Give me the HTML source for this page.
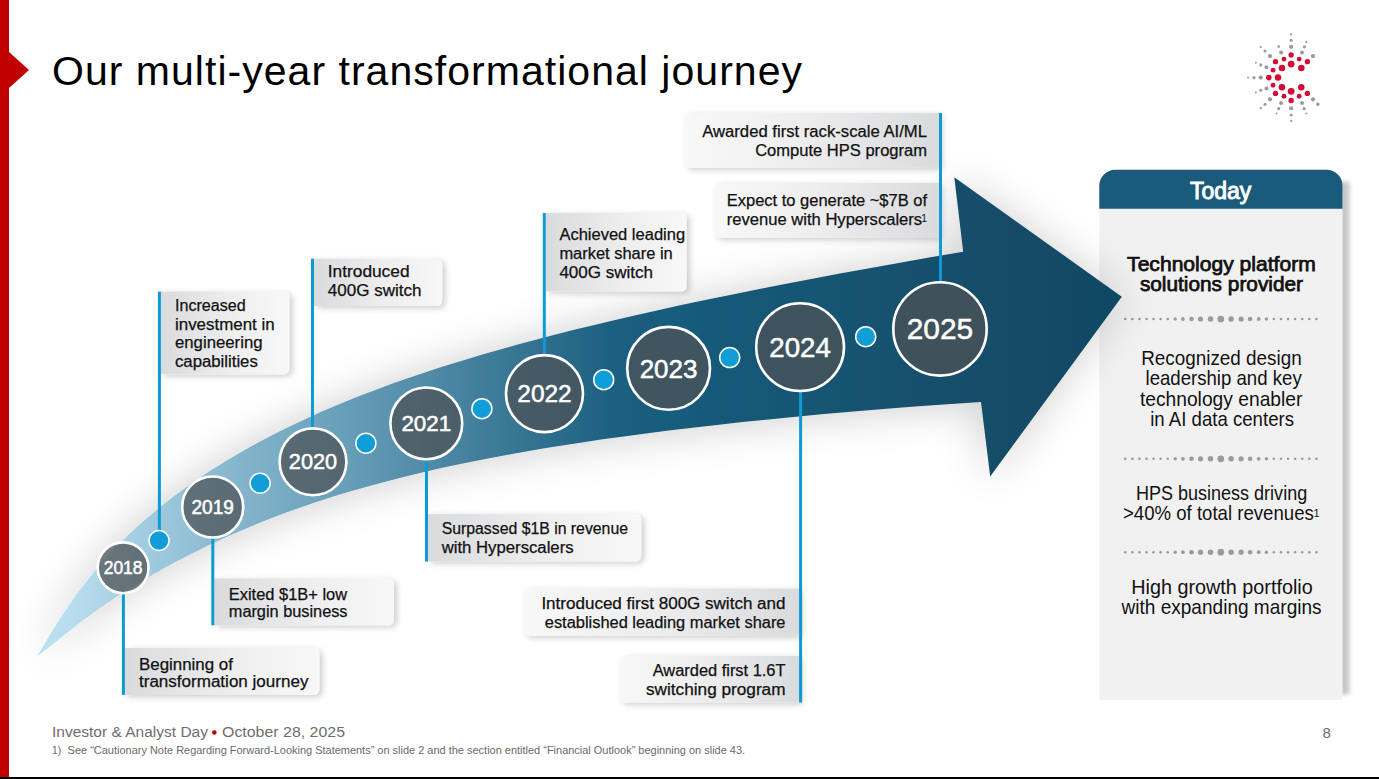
<!DOCTYPE html>
<html><head><meta charset="utf-8"><title>Our multi-year transformational journey</title>
<style>
html,body{margin:0;padding:0;background:#fff;}
body{width:1379px;height:779px;overflow:hidden;position:relative;font-family:"Liberation Sans", sans-serif;}
svg{position:absolute;left:0;top:0;display:block;}
</style></head><body>
<svg width="1379" height="779" viewBox="0 0 1379 779" font-family='"Liberation Sans", sans-serif'>
<defs>
 <linearGradient id="band" gradientUnits="userSpaceOnUse" x1="38" y1="0" x2="1122" y2="0">
  <stop offset="0" stop-color="#bfe1f1"/>
  <stop offset="0.03" stop-color="#b8ddee"/>
  <stop offset="0.20" stop-color="#80b1c9"/>
  <stop offset="0.288" stop-color="#669db8"/>
  <stop offset="0.468" stop-color="#2e6f8d"/>
  <stop offset="0.54" stop-color="#1a5e7e"/>
  <stop offset="0.934" stop-color="#124a65"/>
  <stop offset="1" stop-color="#114862"/>
 </linearGradient>
 <linearGradient id="boxL" x1="0" y1="0" x2="1" y2="0">
  <stop offset="0" stop-color="#dadbdd"/><stop offset="0.55" stop-color="#eeeeef"/><stop offset="1" stop-color="#f8f8f8"/>
 </linearGradient>
 <linearGradient id="boxR" x1="0" y1="0" x2="1" y2="0">
  <stop offset="0" stop-color="#f8f8f8"/><stop offset="0.45" stop-color="#eeeeef"/><stop offset="1" stop-color="#dadbdd"/>
 </linearGradient>
 <filter id="shadowBand" x="-20%" y="-40%" width="140%" height="180%">
  <feGaussianBlur in="SourceAlpha" stdDeviation="22"/>
  <feOffset dx="-1" dy="1" result="b"/>
  <feComponentTransfer><feFuncA type="linear" slope="0.2"/></feComponentTransfer>
  <feMerge><feMergeNode/><feMergeNode in="SourceGraphic"/></feMerge>
 </filter>
 <filter id="shadowBox" x="-10%" y="-30%" width="125%" height="170%">
  <feGaussianBlur in="SourceAlpha" stdDeviation="3"/>
  <feOffset dx="3" dy="2" result="b"/>
  <feComponentTransfer><feFuncA type="linear" slope="0.2"/></feComponentTransfer>
  <feMerge><feMergeNode/><feMergeNode in="SourceGraphic"/></feMerge>
 </filter>
 <filter id="shadowPanel" x="-10%" y="-10%" width="125%" height="120%">
  <feGaussianBlur in="SourceAlpha" stdDeviation="3"/>
  <feOffset dx="6" dy="2" result="b"/>
  <feComponentTransfer><feFuncA type="linear" slope="0.36"/></feComponentTransfer>
  <feMerge><feMergeNode/><feMergeNode in="SourceGraphic"/></feMerge>
 </filter>
 <filter id="blurP" x="-100%" y="-10%" width="300%" height="120%"><feGaussianBlur stdDeviation="2.2"/></filter>
</defs>
<rect x="0" y="0" width="9" height="779" fill="#c00000"/>
<polygon points="9,52 29,70 9,88" fill="#c00000"/>
<rect x="0" y="777" width="1379" height="2" fill="#000"/>
<text x="52" y="85" font-size="41" fill="#000" textLength="750" lengthAdjust="spacing">Our multi-year transformational journey</text>

<svg x="1230" y="20" width="110" height="110" viewBox="0 0 779 779">
<circle cx="433" cy="102" r="8" fill="#9a9b9e"/>
<circle cx="433" cy="143" r="11" fill="#9a9b9e"/>
<circle cx="433" cy="190" r="15" fill="#9a9b9e"/>
<circle cx="540" cy="157" r="8" fill="#9a9b9e"/>
<circle cx="527" cy="190" r="11" fill="#9a9b9e"/>
<circle cx="510" cy="230" r="14" fill="#9a9b9e"/>
<circle cx="588" cy="255" r="15" fill="#9a9b9e"/>
<circle cx="218" cy="192" r="8" fill="#9a9b9e"/>
<circle cx="248" cy="220" r="11" fill="#9a9b9e"/>
<circle cx="283" cy="255" r="15" fill="#9a9b9e"/>
<circle cx="345" cy="188" r="10" fill="#9a9b9e"/>
<circle cx="362" cy="230" r="14" fill="#9a9b9e"/>
<circle cx="183" cy="303" r="7" fill="#9a9b9e"/>
<circle cx="218" cy="318" r="11" fill="#9a9b9e"/>
<circle cx="258" cy="335" r="14" fill="#9a9b9e"/>
<circle cx="128" cy="408" r="7" fill="#9a9b9e"/>
<circle cx="170" cy="408" r="11" fill="#9a9b9e"/>
<circle cx="218" cy="408" r="15" fill="#9a9b9e"/>
<circle cx="183" cy="513" r="7" fill="#9a9b9e"/>
<circle cx="218" cy="498" r="11" fill="#9a9b9e"/>
<circle cx="258" cy="485" r="14" fill="#9a9b9e"/>
<circle cx="283" cy="562" r="15" fill="#9a9b9e"/>
<circle cx="248" cy="597" r="11" fill="#9a9b9e"/>
<circle cx="218" cy="625" r="8" fill="#9a9b9e"/>
<circle cx="362" cy="588" r="14" fill="#9a9b9e"/>
<circle cx="345" cy="628" r="11" fill="#9a9b9e"/>
<circle cx="330" cy="662" r="7" fill="#9a9b9e"/>
<circle cx="433" cy="625" r="15" fill="#9a9b9e"/>
<circle cx="433" cy="673" r="11" fill="#9a9b9e"/>
<circle cx="433" cy="715" r="8" fill="#9a9b9e"/>
<circle cx="510" cy="588" r="14" fill="#9a9b9e"/>
<circle cx="525" cy="628" r="11" fill="#9a9b9e"/>
<circle cx="540" cy="662" r="7" fill="#9a9b9e"/>
<circle cx="588" cy="562" r="15" fill="#9a9b9e"/>
<circle cx="622" cy="597" r="12" fill="#9a9b9e"/>
<circle cx="433" cy="247" r="19" fill="#d40b35"/>
<circle cx="382" cy="277" r="17" fill="#d40b35"/>
<circle cx="490" cy="277" r="17" fill="#d40b35"/>
<circle cx="322" cy="295" r="19" fill="#d40b35"/>
<circle cx="548" cy="295" r="19" fill="#d40b35"/>
<circle cx="433" cy="312" r="24" fill="#d40b35"/>
<circle cx="368" cy="340" r="23" fill="#d40b35"/>
<circle cx="505" cy="340" r="23" fill="#d40b35"/>
<circle cx="305" cy="355" r="17" fill="#d40b35"/>
<circle cx="275" cy="408" r="20" fill="#d40b35"/>
<circle cx="340" cy="408" r="23" fill="#d40b35"/>
<circle cx="305" cy="462" r="17" fill="#d40b35"/>
<circle cx="368" cy="477" r="23" fill="#d40b35"/>
<circle cx="505" cy="477" r="23" fill="#d40b35"/>
<circle cx="433" cy="505" r="24" fill="#d40b35"/>
<circle cx="322" cy="520" r="19" fill="#d40b35"/>
<circle cx="548" cy="520" r="19" fill="#d40b35"/>
<circle cx="382" cy="540" r="17" fill="#d40b35"/>
<circle cx="490" cy="540" r="17" fill="#d40b35"/>
<circle cx="433" cy="570" r="19" fill="#d40b35"/>
</svg>
<rect x="1338.5" y="181.7" width="11" height="512.8" fill="#000" fill-opacity="0.22" filter="url(#blurP)"/>
<path d="M1099.3,185.7 A16,16 0 0 1 1115.3,169.7 H1326.5 A16,16 0 0 1 1342.5,185.7 V699.8 H1099.3 Z" fill="#f1f1f1"/>
<path d="M1099.3,185.7 A16,16 0 0 1 1115.3,169.7 H1326.5 A16,16 0 0 1 1342.5,185.7 V208.8 H1099.3 Z" fill="#1a5a7a"/>
<text x="1189.9" y="199.1" font-size="23" stroke="#fff" stroke-width="0.9" fill="#fff" textLength="61.4" lengthAdjust="spacingAndGlyphs">Today</text>
<text x="1127.1" y="270.8" font-size="20.5" stroke="#111" stroke-width="0.75" fill="#111" textLength="188.7" lengthAdjust="spacingAndGlyphs">Technology platform</text>
<text x="1139.9" y="291.3" font-size="20.5" stroke="#111" stroke-width="0.75" fill="#111" textLength="163.1" lengthAdjust="spacingAndGlyphs">solutions provider</text>
<circle cx="1220.8" cy="319.0" r="3.35" fill="#9b9b9b"/><circle cx="1231.1" cy="319.0" r="2.75" fill="#9b9b9b"/><circle cx="1210.5" cy="319.0" r="2.75" fill="#9b9b9b"/><circle cx="1241.1" cy="319.0" r="2.6" fill="#9b9b9b"/><circle cx="1200.5" cy="319.0" r="2.6" fill="#9b9b9b"/><circle cx="1250.1" cy="319.0" r="2.3" fill="#9b9b9b"/><circle cx="1191.5" cy="319.0" r="2.3" fill="#9b9b9b"/><circle cx="1258.7" cy="319.0" r="1.9" fill="#9b9b9b"/><circle cx="1182.9" cy="319.0" r="1.9" fill="#9b9b9b"/><circle cx="1266.4" cy="319.0" r="1.7" fill="#9b9b9b"/><circle cx="1175.2" cy="319.0" r="1.7" fill="#9b9b9b"/><circle cx="1273.9" cy="319.0" r="1.3" fill="#9b9b9b"/><circle cx="1167.7" cy="319.0" r="1.3" fill="#9b9b9b"/><circle cx="1281.0" cy="319.0" r="1.3" fill="#9b9b9b"/><circle cx="1160.6" cy="319.0" r="1.3" fill="#9b9b9b"/><circle cx="1288.1" cy="319.0" r="1.3" fill="#9b9b9b"/><circle cx="1153.5" cy="319.0" r="1.3" fill="#9b9b9b"/><circle cx="1295.1" cy="319.0" r="1.3" fill="#9b9b9b"/><circle cx="1146.5" cy="319.0" r="1.3" fill="#9b9b9b"/><circle cx="1302.2" cy="319.0" r="1.3" fill="#9b9b9b"/><circle cx="1139.4" cy="319.0" r="1.3" fill="#9b9b9b"/><circle cx="1309.3" cy="319.0" r="1.3" fill="#9b9b9b"/><circle cx="1132.3" cy="319.0" r="1.3" fill="#9b9b9b"/><circle cx="1316.4" cy="319.0" r="1.3" fill="#9b9b9b"/><circle cx="1125.2" cy="319.0" r="1.3" fill="#9b9b9b"/>
<circle cx="1220.8" cy="458.8" r="3.35" fill="#9b9b9b"/><circle cx="1231.1" cy="458.8" r="2.75" fill="#9b9b9b"/><circle cx="1210.5" cy="458.8" r="2.75" fill="#9b9b9b"/><circle cx="1241.1" cy="458.8" r="2.6" fill="#9b9b9b"/><circle cx="1200.5" cy="458.8" r="2.6" fill="#9b9b9b"/><circle cx="1250.1" cy="458.8" r="2.3" fill="#9b9b9b"/><circle cx="1191.5" cy="458.8" r="2.3" fill="#9b9b9b"/><circle cx="1258.7" cy="458.8" r="1.9" fill="#9b9b9b"/><circle cx="1182.9" cy="458.8" r="1.9" fill="#9b9b9b"/><circle cx="1266.4" cy="458.8" r="1.7" fill="#9b9b9b"/><circle cx="1175.2" cy="458.8" r="1.7" fill="#9b9b9b"/><circle cx="1273.9" cy="458.8" r="1.3" fill="#9b9b9b"/><circle cx="1167.7" cy="458.8" r="1.3" fill="#9b9b9b"/><circle cx="1281.0" cy="458.8" r="1.3" fill="#9b9b9b"/><circle cx="1160.6" cy="458.8" r="1.3" fill="#9b9b9b"/><circle cx="1288.1" cy="458.8" r="1.3" fill="#9b9b9b"/><circle cx="1153.5" cy="458.8" r="1.3" fill="#9b9b9b"/><circle cx="1295.1" cy="458.8" r="1.3" fill="#9b9b9b"/><circle cx="1146.5" cy="458.8" r="1.3" fill="#9b9b9b"/><circle cx="1302.2" cy="458.8" r="1.3" fill="#9b9b9b"/><circle cx="1139.4" cy="458.8" r="1.3" fill="#9b9b9b"/><circle cx="1309.3" cy="458.8" r="1.3" fill="#9b9b9b"/><circle cx="1132.3" cy="458.8" r="1.3" fill="#9b9b9b"/><circle cx="1316.4" cy="458.8" r="1.3" fill="#9b9b9b"/><circle cx="1125.2" cy="458.8" r="1.3" fill="#9b9b9b"/>
<circle cx="1220.8" cy="552.2" r="3.35" fill="#9b9b9b"/><circle cx="1231.1" cy="552.2" r="2.75" fill="#9b9b9b"/><circle cx="1210.5" cy="552.2" r="2.75" fill="#9b9b9b"/><circle cx="1241.1" cy="552.2" r="2.6" fill="#9b9b9b"/><circle cx="1200.5" cy="552.2" r="2.6" fill="#9b9b9b"/><circle cx="1250.1" cy="552.2" r="2.3" fill="#9b9b9b"/><circle cx="1191.5" cy="552.2" r="2.3" fill="#9b9b9b"/><circle cx="1258.7" cy="552.2" r="1.9" fill="#9b9b9b"/><circle cx="1182.9" cy="552.2" r="1.9" fill="#9b9b9b"/><circle cx="1266.4" cy="552.2" r="1.7" fill="#9b9b9b"/><circle cx="1175.2" cy="552.2" r="1.7" fill="#9b9b9b"/><circle cx="1273.9" cy="552.2" r="1.3" fill="#9b9b9b"/><circle cx="1167.7" cy="552.2" r="1.3" fill="#9b9b9b"/><circle cx="1281.0" cy="552.2" r="1.3" fill="#9b9b9b"/><circle cx="1160.6" cy="552.2" r="1.3" fill="#9b9b9b"/><circle cx="1288.1" cy="552.2" r="1.3" fill="#9b9b9b"/><circle cx="1153.5" cy="552.2" r="1.3" fill="#9b9b9b"/><circle cx="1295.1" cy="552.2" r="1.3" fill="#9b9b9b"/><circle cx="1146.5" cy="552.2" r="1.3" fill="#9b9b9b"/><circle cx="1302.2" cy="552.2" r="1.3" fill="#9b9b9b"/><circle cx="1139.4" cy="552.2" r="1.3" fill="#9b9b9b"/><circle cx="1309.3" cy="552.2" r="1.3" fill="#9b9b9b"/><circle cx="1132.3" cy="552.2" r="1.3" fill="#9b9b9b"/><circle cx="1316.4" cy="552.2" r="1.3" fill="#9b9b9b"/><circle cx="1125.2" cy="552.2" r="1.3" fill="#9b9b9b"/>
<text x="1141.2" y="364.5" font-size="19.8" fill="#111" textLength="160.5" lengthAdjust="spacingAndGlyphs">Recognized design</text>
<text x="1145.5" y="385.0" font-size="19.8" fill="#111" textLength="156.2" lengthAdjust="spacingAndGlyphs">leadership and key</text>
<text x="1139.9" y="405.6" font-size="19.8" fill="#111" textLength="162.5" lengthAdjust="spacingAndGlyphs">technology enabler</text>
<text x="1150.2" y="426.1" font-size="19.8" fill="#111" textLength="143.8" lengthAdjust="spacingAndGlyphs">in AI data centers</text>
<text x="1135.9" y="499.8" font-size="19.8" fill="#111" textLength="171.3" lengthAdjust="spacingAndGlyphs">HPS business driving</text>
<text x="1123.0" y="520.3" font-size="19.8" fill="#111" textLength="190.8" lengthAdjust="spacingAndGlyphs">&gt;40% of total revenues</text>
<text x="1131.2" y="594.3" font-size="19.8" fill="#111" textLength="181.5" lengthAdjust="spacingAndGlyphs">High growth portfolio</text>
<text x="1121.5" y="613.8" font-size="19.8" fill="#111" textLength="200.1" lengthAdjust="spacingAndGlyphs">with expanding margins</text>
<text x="1313.4" y="516.5" font-size="11" fill="#111">1</text>
<path d="M37.4,655.9 L38.5,654.1 L39.6,652.3 L40.7,650.3 L41.9,648.3 L43.1,646.3 L44.4,644.1 L45.7,641.9 L47.1,639.6 L48.5,637.3 L50.0,634.8 L51.5,632.3 L53.0,629.8 L54.7,627.1 L56.3,624.4 L58.1,621.7 L59.9,618.9 L61.8,616.0 L63.7,613.0 L65.7,610.0 L67.8,607.0 L69.9,603.8 L72.1,600.7 L74.4,597.4 L76.8,594.1 L79.3,590.8 L81.9,587.4 L84.5,583.9 L87.3,580.4 L90.1,576.9 L93.0,573.2 L96.1,569.6 L99.2,565.9 L102.5,562.1 L105.9,558.3 L109.4,554.5 L113.0,550.6 L116.8,546.6 L120.7,542.7 L124.7,538.6 L128.9,534.6 L133.2,530.5 L137.7,526.3 L142.3,522.1 L147.1,517.9 L152.1,513.7 L157.2,509.4 L162.6,505.0 L168.1,500.7 L173.8,496.3 L179.7,491.9 L185.9,487.4 L192.2,482.9 L198.8,478.4 L205.6,473.8 L212.6,469.3 L219.9,464.7 L227.5,460.0 L235.3,455.4 L243.4,450.7 L251.8,446.0 L260.5,441.3 L269.5,436.6 L278.9,431.8 L288.5,427.0 L298.5,422.2 L308.9,417.4 L319.6,412.6 L330.7,407.8 L342.2,403.0 L354.2,398.1 L366.5,393.3 L379.3,388.4 L392.5,383.6 L406.2,378.7 L420.4,373.9 L435.1,369.0 L450.3,364.2 L466.1,359.4 L482.4,354.5 L499.3,349.7 L516.8,344.8 L534.9,339.9 L553.7,335.0 L573.1,330.1 L593.3,325.2 L614.1,320.2 L635.7,315.2 L658.0,310.2 L681.2,305.1 L705.2,300.0 L730.0,294.9 L755.7,289.7 L782.3,284.5 L809.9,279.2 L838.5,273.8 L868.0,268.4 L898.6,262.9 L930.4,257.3 L963.2,251.7 L954.3,177.2 L1121.8,296.8 L990.2,476.6 L981.0,401.9 L947.4,404.2 L914.9,406.6 L883.6,409.1 L853.3,411.6 L824.1,414.1 L795.9,416.7 L768.6,419.4 L742.4,422.1 L717.0,424.9 L692.5,427.7 L668.8,430.5 L646.0,433.4 L623.9,436.4 L602.6,439.3 L582.0,442.4 L562.2,445.5 L543.0,448.6 L524.5,451.7 L506.7,454.9 L489.4,458.2 L472.8,461.5 L456.7,464.8 L441.2,468.1 L426.2,471.5 L411.7,474.9 L397.8,478.4 L384.3,481.9 L371.3,485.4 L358.7,488.9 L346.6,492.5 L334.9,496.1 L323.5,499.7 L312.6,503.3 L302.1,506.9 L291.9,510.5 L282.1,514.1 L272.6,517.7 L263.4,521.3 L254.6,524.9 L246.1,528.4 L237.8,531.9 L229.9,535.5 L222.2,538.9 L214.8,542.4 L207.6,545.8 L200.7,549.2 L194.0,552.5 L187.6,555.8 L181.3,559.0 L175.3,562.1 L169.5,565.3 L163.9,568.3 L158.5,571.4 L153.3,574.3 L148.3,577.2 L143.4,580.1 L138.7,582.9 L134.2,585.7 L129.8,588.4 L125.6,591.1 L121.5,593.7 L117.5,596.2 L113.7,598.7 L110.1,601.2 L106.5,603.6 L103.1,606.0 L99.8,608.3 L96.6,610.5 L93.5,612.7 L90.5,614.9 L87.7,617.0 L84.9,619.1 L82.2,621.1 L79.6,623.0 L77.1,624.9 L74.7,626.8 L72.4,628.6 L70.2,630.4 L68.0,632.1 L65.9,633.7 L63.9,635.3 L61.9,636.9 L60.0,638.4 L58.2,639.9 L56.5,641.3 L54.8,642.7 L53.1,644.0 L51.6,645.2 L50.0,646.4 L48.6,647.6 L47.1,648.7 L45.8,649.8 L44.4,650.8 L43.2,651.8 L41.9,652.7 L40.7,653.6 L39.6,654.4 L38.5,655.2 L37.4,655.9Z" fill="url(#band)" filter="url(#shadowBand)"/>
<path d="M160.8,291.6 H283.3 Q289.3,291.6 289.3,297.6 V368.2 Q289.3,374.2 283.3,374.2 H160.8 Z" fill="url(#boxL)" filter="url(#shadowBox)"/>
<path d="M313.9,258.7 H436.1 Q442.1,258.7 442.1,264.7 V299.9 Q442.1,305.9 436.1,305.9 H313.9 Z" fill="url(#boxL)" filter="url(#shadowBox)"/>
<path d="M546.0,213.0 H680.6 Q686.6,213.0 686.6,219.0 V285.4 Q686.6,291.4 680.6,291.4 H546.0 Z" fill="url(#boxL)" filter="url(#shadowBox)"/>
<path d="M124.8,648.1 H313.3 Q319.3,648.1 319.3,654.1 V688.9 Q319.3,694.9 313.3,694.9 H124.8 Z" fill="url(#boxL)" filter="url(#shadowBox)"/>
<path d="M214.4,578.5 H387.9 Q393.9,578.5 393.9,584.5 V619.3 Q393.9,625.3 387.9,625.3 H214.4 Z" fill="url(#boxL)" filter="url(#shadowBox)"/>
<path d="M428.1,513.9 H635.1 Q641.1,513.9 641.1,519.9 V555.6 Q641.1,561.6 635.1,561.6 H428.1 Z" fill="url(#boxL)" filter="url(#shadowBox)"/>
<path d="M799.0,588.5 V635.8 H529.5 Q523.5,635.8 523.5,629.8 V594.5 Q523.5,588.5 529.5,588.5 Z" fill="url(#boxR)" filter="url(#shadowBox)"/>
<path d="M799.0,656.0 V702.5 H625.5 Q619.5,702.5 619.5,696.5 V662.0 Q619.5,656.0 625.5,656.0 Z" fill="url(#boxR)" filter="url(#shadowBox)"/>
<path d="M939.2,113.0 V167.7 H690.3 Q684.3,167.7 684.3,161.7 V119.0 Q684.3,113.0 690.3,113.0 Z" fill="url(#boxR)" filter="url(#shadowBox)"/>
<path d="M939.2,183.0 V237.7 H720.2 Q714.2,237.7 714.2,231.7 V189.0 Q714.2,183.0 720.2,183.0 Z" fill="url(#boxR)" filter="url(#shadowBox)"/>
<rect x="157.9" y="291.6" width="3" height="239.39999999999998" fill="#0d9ad7"/>
<rect x="311.0" y="258.7" width="3" height="168.3" fill="#0d9ad7"/>
<rect x="542.8" y="213.0" width="3" height="140.0" fill="#0d9ad7"/>
<rect x="121.9" y="594" width="3" height="100.89999999999998" fill="#0d9ad7"/>
<rect x="211.3" y="538.5" width="3" height="86.79999999999995" fill="#0d9ad7"/>
<rect x="425.0" y="460.5" width="3" height="101.10000000000002" fill="#0d9ad7"/>
<rect x="799.1" y="391.5" width="3" height="311.0" fill="#0d9ad7"/>
<rect x="939.0" y="113.0" width="3" height="168.5" fill="#0d9ad7"/>
<text x="175.0" y="310.8" font-size="16" fill="#111" stroke="#111" stroke-width="0.25" textLength="70.7" lengthAdjust="spacingAndGlyphs">Increased</text>
<text x="175.0" y="329.6" font-size="16" fill="#111" stroke="#111" stroke-width="0.25" textLength="99.6" lengthAdjust="spacingAndGlyphs">investment in</text>
<text x="175.0" y="348.4" font-size="16" fill="#111" stroke="#111" stroke-width="0.25" textLength="87.5" lengthAdjust="spacingAndGlyphs">engineering</text>
<text x="175.0" y="367.2" font-size="16" fill="#111" stroke="#111" stroke-width="0.25" textLength="82.8" lengthAdjust="spacingAndGlyphs">capabilities</text>
<text x="327.8" y="276.9" font-size="16" fill="#111" stroke="#111" stroke-width="0.25" textLength="81.7" lengthAdjust="spacingAndGlyphs">Introduced</text>
<text x="327.8" y="296.0" font-size="16" fill="#111" stroke="#111" stroke-width="0.25" textLength="93.8" lengthAdjust="spacingAndGlyphs">400G switch</text>
<text x="559.4" y="239.8" font-size="16" fill="#111" stroke="#111" stroke-width="0.25" textLength="125.7" lengthAdjust="spacingAndGlyphs">Achieved leading</text>
<text x="559.4" y="258.8" font-size="16" fill="#111" stroke="#111" stroke-width="0.25" textLength="113.3" lengthAdjust="spacingAndGlyphs">market share in</text>
<text x="559.4" y="277.7" font-size="16" fill="#111" stroke="#111" stroke-width="0.25" textLength="93.7" lengthAdjust="spacingAndGlyphs">400G switch</text>
<text x="139.0" y="669.9" font-size="16" fill="#111" stroke="#111" stroke-width="0.25" textLength="93.9" lengthAdjust="spacingAndGlyphs">Beginning of</text>
<text x="139.0" y="686.8" font-size="16" fill="#111" stroke="#111" stroke-width="0.25" textLength="169.4" lengthAdjust="spacingAndGlyphs">transformation journey</text>
<text x="228.8" y="600.2" font-size="16" fill="#111" stroke="#111" stroke-width="0.25" textLength="118.3" lengthAdjust="spacingAndGlyphs">Exited $1B+ low</text>
<text x="228.8" y="617.0" font-size="16" fill="#111" stroke="#111" stroke-width="0.25" textLength="118.7" lengthAdjust="spacingAndGlyphs">margin business</text>
<text x="441.7" y="534.4" font-size="16" fill="#111" stroke="#111" stroke-width="0.25" textLength="186.3" lengthAdjust="spacingAndGlyphs">Surpassed $1B in revenue</text>
<text x="441.7" y="552.5" font-size="16" fill="#111" stroke="#111" stroke-width="0.25" textLength="131.9" lengthAdjust="spacingAndGlyphs">with Hyperscalers</text>
<text x="541.4" y="609.2" font-size="16" fill="#111" stroke="#111" stroke-width="0.25" textLength="244.1" lengthAdjust="spacingAndGlyphs">Introduced first 800G switch and</text>
<text x="544.8" y="628.3" font-size="16" fill="#111" stroke="#111" stroke-width="0.25" textLength="240.7" lengthAdjust="spacingAndGlyphs">established leading market share</text>
<text x="652.7" y="675.5" font-size="16" fill="#111" stroke="#111" stroke-width="0.25" textLength="132.8" lengthAdjust="spacingAndGlyphs">Awarded first 1.6T</text>
<text x="646.0" y="694.7" font-size="16" fill="#111" stroke="#111" stroke-width="0.25" textLength="139.5" lengthAdjust="spacingAndGlyphs">switching program</text>
<text x="702.2" y="137.2" font-size="16" fill="#111" stroke="#111" stroke-width="0.25" textLength="224.8" lengthAdjust="spacingAndGlyphs">Awarded first rack-scale AI/ML</text>
<text x="755.2" y="155.7" font-size="16" fill="#111" stroke="#111" stroke-width="0.25" textLength="171.8" lengthAdjust="spacingAndGlyphs">Compute HPS program</text>
<text x="726.8" y="206.2" font-size="16" fill="#111" stroke="#111" stroke-width="0.25" textLength="200.2" lengthAdjust="spacingAndGlyphs">Expect to generate ~$7B of</text>
<text x="726.8" y="225.1" font-size="16" fill="#111" stroke="#111" stroke-width="0.25" textLength="195.3" lengthAdjust="spacingAndGlyphs">revenue with Hyperscalers</text>
<text x="921.3" y="222" font-size="10.5" fill="#111">1</text>
<circle cx="123.1" cy="567.8" r="25.4" fill="rgb(77,83,87)" fill-opacity="0.75" stroke="#fff" stroke-width="2.6"/>
<text x="123.1" y="574.1" font-size="18.2" fill="#fff" stroke="#fff" stroke-width="0.5" text-anchor="middle" textLength="38.8" lengthAdjust="spacingAndGlyphs">2018</text>
<circle cx="212.7" cy="507.0" r="30.5" fill="rgb(77,83,87)" fill-opacity="0.75" stroke="#fff" stroke-width="2.6"/>
<text x="212.7" y="513.8" font-size="19.7" fill="#fff" stroke="#fff" stroke-width="0.5" text-anchor="middle" textLength="42.5" lengthAdjust="spacingAndGlyphs">2019</text>
<circle cx="313.0" cy="461.8" r="33.4" fill="rgb(77,83,87)" fill-opacity="0.75" stroke="#fff" stroke-width="2.6"/>
<text x="313.0" y="469.4" font-size="22.0" fill="#fff" stroke="#fff" stroke-width="0.5" text-anchor="middle" textLength="48.3" lengthAdjust="spacingAndGlyphs">2020</text>
<circle cx="426.3" cy="423.4" r="35.9" fill="rgb(77,83,87)" fill-opacity="0.75" stroke="#fff" stroke-width="2.6"/>
<text x="426.3" y="431.2" font-size="22.6" fill="#fff" stroke="#fff" stroke-width="0.5" text-anchor="middle" textLength="49.8" lengthAdjust="spacingAndGlyphs">2021</text>
<circle cx="544.5" cy="393.6" r="38.5" fill="rgb(77,83,87)" fill-opacity="0.75" stroke="#fff" stroke-width="2.6"/>
<text x="544.5" y="402.1" font-size="24.8" fill="#fff" stroke="#fff" stroke-width="0.5" text-anchor="middle" textLength="54.4" lengthAdjust="spacingAndGlyphs">2022</text>
<circle cx="668.6" cy="368.3" r="41.4" fill="rgb(77,83,87)" fill-opacity="0.75" stroke="#fff" stroke-width="2.6"/>
<text x="668.6" y="377.5" font-size="26.6" fill="#fff" stroke="#fff" stroke-width="0.5" text-anchor="middle" textLength="57.9" lengthAdjust="spacingAndGlyphs">2023</text>
<circle cx="800.1" cy="347.1" r="43.9" fill="rgb(77,83,87)" fill-opacity="0.75" stroke="#fff" stroke-width="2.6"/>
<text x="800.1" y="356.8" font-size="28.1" fill="#fff" stroke="#fff" stroke-width="0.5" text-anchor="middle" textLength="61.6" lengthAdjust="spacingAndGlyphs">2024</text>
<circle cx="940.0" cy="328.9" r="46.7" fill="rgb(77,83,87)" fill-opacity="0.75" stroke="#fff" stroke-width="2.6"/>
<text x="940.0" y="339.3" font-size="30.3" fill="#fff" stroke="#fff" stroke-width="0.5" text-anchor="middle" textLength="66.5" lengthAdjust="spacingAndGlyphs">2025</text>
<circle cx="159" cy="540.5" r="10" fill="#119ed6" stroke="#fff" stroke-width="1.5"/>
<circle cx="260.1" cy="483.2" r="10" fill="#119ed6" stroke="#fff" stroke-width="1.5"/>
<circle cx="365.9" cy="443.2" r="10" fill="#119ed6" stroke="#fff" stroke-width="1.5"/>
<circle cx="481.9" cy="408.7" r="10" fill="#119ed6" stroke="#fff" stroke-width="1.5"/>
<circle cx="603.7" cy="379.7" r="10" fill="#119ed6" stroke="#fff" stroke-width="1.5"/>
<circle cx="729.7" cy="357.6" r="10" fill="#119ed6" stroke="#fff" stroke-width="1.5"/>
<circle cx="865.7" cy="336.7" r="10" fill="#119ed6" stroke="#fff" stroke-width="1.5"/>
<text x="52" y="737" font-size="15.5" fill="#6e6e6e" textLength="156" lengthAdjust="spacingAndGlyphs">Investor &amp; Analyst Day</text>
<circle cx="214.3" cy="732.5" r="2.3" fill="#c00000"/>
<text x="222" y="737" font-size="15.5" fill="#6e6e6e" textLength="123" lengthAdjust="spacingAndGlyphs">October 28, 2025</text>
<text x="52" y="753.5" font-size="10.3" fill="#6a6a6a">1)</text>
<text x="67.6" y="753.5" font-size="10.3" fill="#6a6a6a" textLength="677.5" lengthAdjust="spacingAndGlyphs">See “Cautionary Note Regarding Forward-Looking Statements” on slide 2 and the section entitled “Financial Outlook” beginning on slide 43.</text>
<text x="1322.6" y="738" font-size="15" fill="#6e6e6e">8</text>
</svg></body></html>
